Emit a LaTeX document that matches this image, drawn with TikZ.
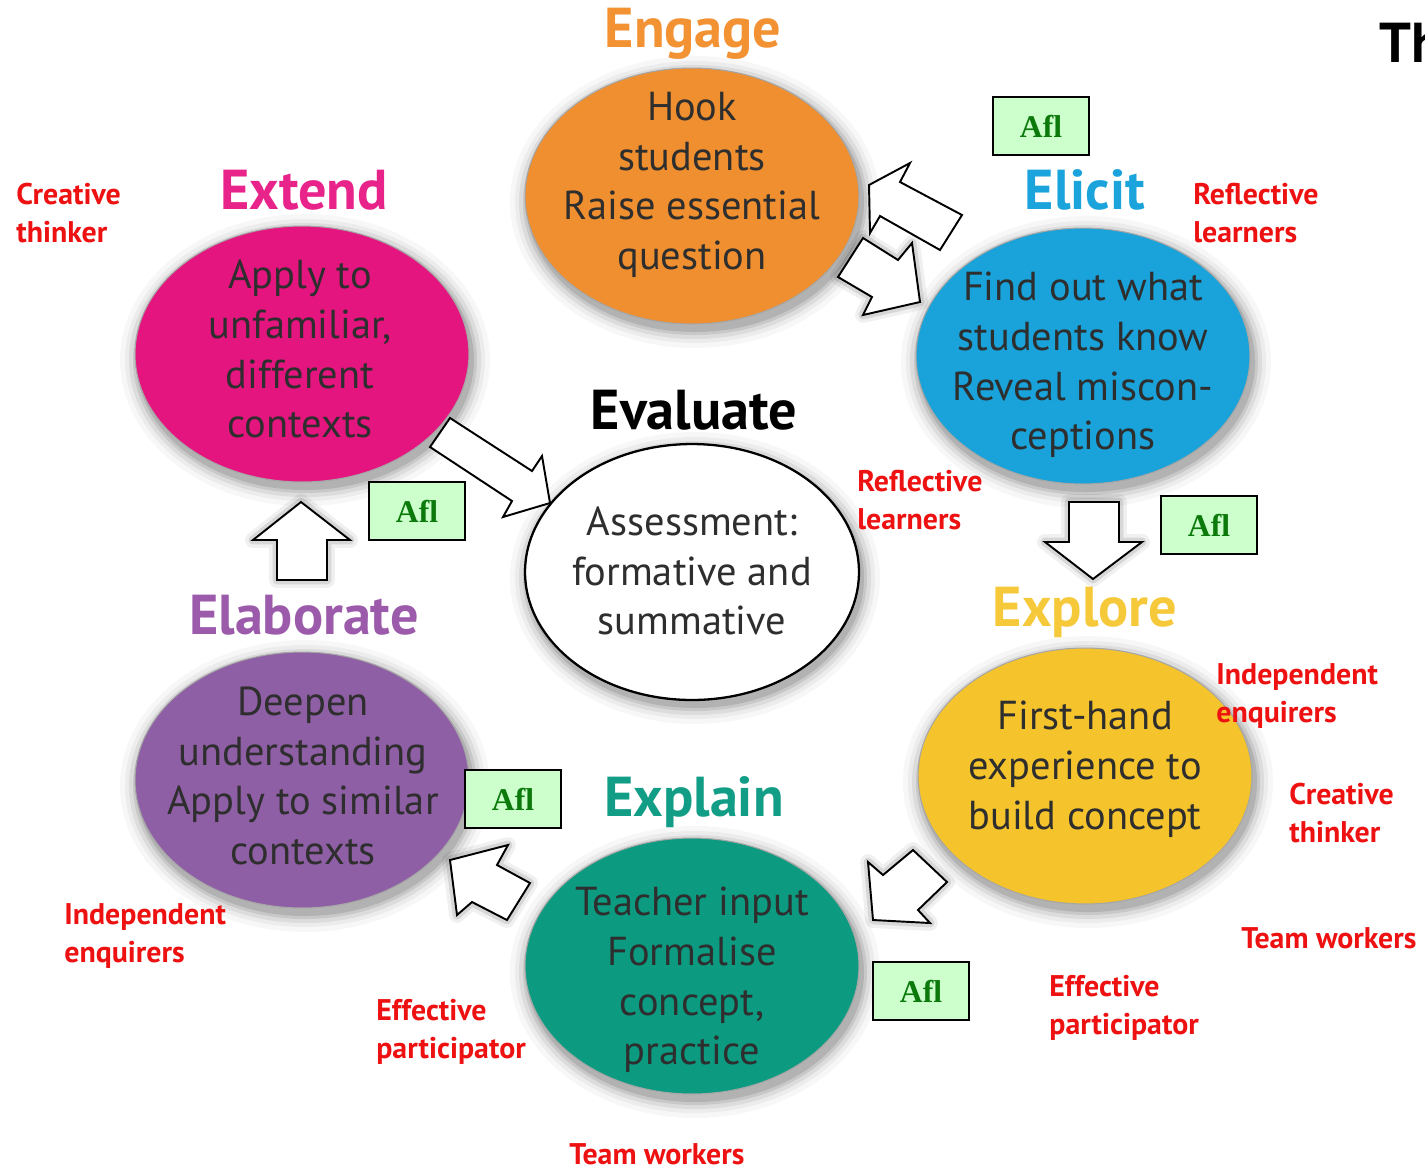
\documentclass[tikz,border=0pt]{standalone}
\usepackage{fontspec}
\setmainfont{PT Sans}
\newfontfamily\aflfont{Liberation Serif}
\usetikzlibrary{shapes.geometric}
\definecolor{cEngage}{HTML}{EF8F2F}
\definecolor{cEngageT}{HTML}{F39233}
\definecolor{cElicit}{HTML}{19A3DA}
\definecolor{cElicitT}{HTML}{1BA3DC}
\definecolor{cExplore}{HTML}{F5C42C}
\definecolor{cExploreT}{HTML}{F6C93A}
\definecolor{cExplain}{HTML}{0C9B81}
\definecolor{cExplainT}{HTML}{129D87}
\definecolor{cElab}{HTML}{8F5FA5}
\definecolor{cElabT}{HTML}{9B5BAA}
\definecolor{cExtend}{HTML}{E5157F}
\definecolor{cExtendT}{HTML}{E8248B}
\definecolor{cRed}{HTML}{EE1111}
\definecolor{cAflFill}{HTML}{CCFFCC}
\definecolor{cAflText}{HTML}{0B7A0B}
\definecolor{cInk}{HTML}{2E2E2E}
\tikzset{
  ellbox/.style={ellipse, minimum width=6.68cm, minimum height=5.12cm, inner sep=0pt, draw=black!35, line width=0.6pt},
  elltext/.style={align=center, text=cInk, font=\fontsize{23}{28.3}\selectfont},
  titletext/.style={font=\bfseries\fontsize{32}{34}\selectfont},
  redlabel/.style={anchor=north west, align=left, text=cRed, inner sep=0pt, font=\bfseries\fontsize{17}{21.5}\selectfont},
  aflbox/.style={draw=black, line width=1pt, fill=cAflFill, minimum width=1.92cm, minimum height=1.16cm, inner sep=0pt, text=cAflText, font=\aflfont\bfseries\fontsize{18}{18}\selectfont},
  hollowarrow/.style={fill=white, draw=black, line width=1.1pt, line join=miter},
  solidarrow/.style={fill=white, draw=black, line width=1.1pt, line join=miter},
}
\begin{document}
\begin{tikzpicture}[x=0.02cm, y=-0.02cm]
\clip (0,0) rectangle (1425,1171);
\fill[white] (0,0) rectangle (1425,1171);

% ---- glows under ellipses
\foreach \cx/\cy in {692/196, 1083/356, 1085/776, 692/966, 302/780, 302/354, 692/572}{
  \foreach \k/\o in {18/0.03, 13/0.045, 9/0.065, 5/0.09, 2/0.11}{
    \fill[black, opacity=\o] (\cx+3,\cy+6) ellipse [x radius={(167+\k)*0.02cm}, y radius={(128+\k)*0.02cm}];
  }
}

% ---- ellipses
\node[ellbox, fill=cEngage]  (engage)   at (692,196) {};
\node[ellbox, fill=cElicit]  (elicit)   at (1083,356) {};
\node[ellbox, fill=cExplore] (explore)  at (1085,776) {};
\node[ellbox, fill=cExplain] (explain)  at (692,966) {};
\node[ellbox, fill=cElab]    (elaborate) at (302,780) {};
\node[ellbox, fill=cExtend]  (extend)   at (302,354) {};
\node[ellbox, fill=white, draw=black, line width=1.3pt] (evaluate) at (692,572) {};

% ---- ellipse texts
\node[elltext] (tEngage)  at (692,185) {Hook\\students\\Raise essential\\question};
\node[elltext] (tExtend)  at (300,349) {Apply to\\unfamiliar,\\different\\contexts};
\node[elltext] (tElicit)  at (1083,365) {Find out what\\students know\\Reveal miscon-\\ceptions};
\node[elltext] (tEval)    at (692,571) {Assessment:\\formative and\\summative};
\node[elltext] (tExplore) at (1085,769) {First-hand\\experience to\\build concept};
\node[elltext] (tElab)    at (303,776) {Deepen\\understanding\\Apply to similar\\contexts};
\node[elltext] (tExplain) at (692,980) {Teacher input\\Formalise\\concept,\\practice};

% ---- titles
\node[titletext, text=cEngageT]  (hEngage)  at (693,34)  {Engage};
\node[titletext, text=cExtendT]  (hExtend)  at (304,190) {Extend};
\node[titletext, text=cElicitT]  (hElicit)  at (1085,190) {Elicit};
\node[titletext, text=black]     (hEval)    at (694,410) {Evaluate};
\node[titletext, text=cElabT]    (hElab)    at (304,615) {Elaborate};
\node[titletext, text=cExploreT] (hExplore) at (1085,612) {Explore};
\node[titletext, text=cExplainT] (hExplain) at (694,802) {Explain};

% ---- cut-off heading (cut by the right edge, as in the reference)
\node[anchor=west, inner sep=0pt, font=\bfseries\fontsize{32}{32}\selectfont] (hTh) at (1379,43) {Th};

% ---- block arrows with soft shadow
\newcommand\blockarrow[1]{%
  \draw[line width=9pt, draw=black, opacity=0.06, line join=round] #1;
  \draw[line width=5pt, draw=black, opacity=0.10, line join=round] #1;
  \draw[solidarrow] #1;
}
\blockarrow{(838,277) -- (863,238) -- (898,260) -- (912,243) -- (920,302) -- (863,315) -- (872,297) -- cycle}
\blockarrow{(1069,502) -- (1119,502) -- (1119,542) -- (1142,542) -- (1093,579) -- (1045,542) -- (1069,542) -- cycle}
\blockarrow{(913,850) -- (947,882) -- (918,910) -- (930,923) -- (873,920) -- (868,862) -- (883,875) -- cycle}
\blockarrow{(450,860) -- (508,845) -- (497,865) -- (530,883) -- (507,920) -- (472,902) -- (457,915) -- cycle}
\blockarrow{(301,502) -- (350,540) -- (327,540) -- (327,580) -- (277,580) -- (277,540) -- (253,540) -- cycle}

% ---- hollow arrows
\draw[hollowarrow] (869,185) -- (910,163) -- (900,182) -- (962,215) -- (940,250) -- (880,216) -- (870,233) -- cycle;
\draw[hollowarrow] (450,418) -- (532,471) -- (542,456) -- (550,503) -- (503,517) -- (512,501) -- (430,447) -- cycle;

% ---- AfL boxes
\node[aflbox] (afl1) at (1041,126) {Afl};
\node[aflbox] (afl2) at (417,511) {Afl};
\node[aflbox] (afl3) at (1209,525) {Afl};
\node[aflbox] (afl4) at (513,799) {Afl};
\node[aflbox] (afl5) at (921,991) {Afl};

% ---- red labels
\node[redlabel] (r1)  at (16,183)   {Creative\\thinker};
\node[redlabel] (r2)  at (1193,183) {Reflective\\learners};
\node[redlabel] (r3)  at (857,470)  {Reflective\\learners};
\node[redlabel] (r4)  at (1216,663) {Independent\\enquirers};
\node[redlabel] (r5)  at (1289,783) {Creative\\thinker};
\node[redlabel] (r6)  at (1241,927) {Team workers};
\node[redlabel] (r7)  at (1049,975) {Effective\\participator};
\node[redlabel] (r8)  at (64,903)   {Independent\\enquirers};
\node[redlabel] (r9)  at (376,999)  {Effective\\participator};
\node[redlabel] (r10) at (569,1143) {Team workers};
\end{tikzpicture}
\end{document}
